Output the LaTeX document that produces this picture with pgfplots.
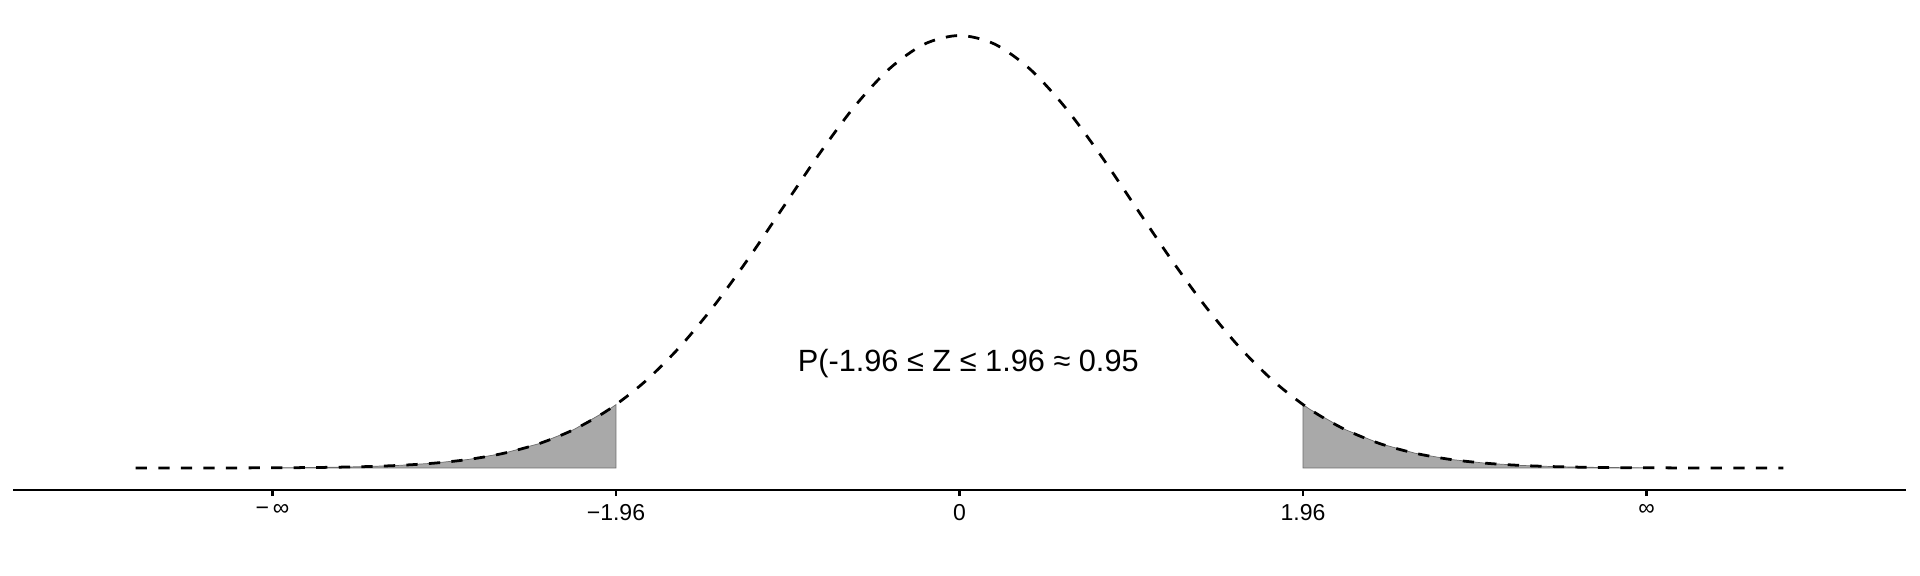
\documentclass[border=0pt]{standalone}
\usepackage{fontspec}
\setmainfont{Liberation Sans}
\usepackage{pgfplots}
\pgfplotsset{compat=1.18}
\definecolor{shade}{HTML}{A9A9A9}

\begin{document}
\begin{tikzpicture}
\useasboundingbox (-5.42pt,-35.83pt) rectangle (794.58pt,204.17pt);
\begin{axis}[
  scale only axis, width=788.75pt, height=204.17pt,
  xmin=-5.4, xmax=5.4, ymin=-0.0203, ymax=0.4317,
  axis x line=bottom, axis y line=none,
  axis line style={-, line width=1.1pt, black},
  xtick={-3.92,-1.96,0,1.96,3.92},
  xticklabels={{−\,∞},{−1.96},0,1.96,∞},
  tick align=outside, major tick length=2.6pt,
  tick style={line width=1.1pt, black},
  tick label style={font=\fontsize{9.6}{11}\selectfont},
  ytick=\empty,
  clip=false,
]
% shaded tails
\addplot[fill=shade, draw=gray!85!black, line width=0.3pt] coordinates {
  (-3.92,0) (-3.92,0.000184) (-3.8,0.000292) (-3.6,0.000612) (-3.4,0.001232)
  (-3.2,0.002384) (-3.0,0.004432) (-2.8,0.007915) (-2.6,0.013583)
  (-2.4,0.022395) (-2.2,0.035475) (-2.0,0.053991) (-1.96,0.058441) (-1.96,0)
} -- cycle;
\addplot[fill=shade, draw=gray!85!black, line width=0.3pt] coordinates {
  (1.96,0) (1.96,0.058441) (2.0,0.053991) (2.2,0.035475) (2.4,0.022395)
  (2.6,0.013583) (2.8,0.007915) (3.0,0.004432) (3.2,0.002384)
  (3.4,0.001232) (3.6,0.000612) (3.8,0.000292) (3.92,0.000184) (3.92,0)
} -- cycle;
% density curve
\addplot[black, line width=1.15pt, dash pattern=on 4.7pt off 4.7pt, smooth] coordinates {
  (-4.7,0.0000066) (-4.6,0.0000101) (-4.4,0.000025) (-4.2,0.0000589)
  (-4.0,0.000134) (-3.8,0.000292) (-3.6,0.000612) (-3.4,0.001232)
  (-3.2,0.002384) (-3.0,0.004432) (-2.8,0.007915) (-2.6,0.013583)
  (-2.4,0.022395) (-2.2,0.035475) (-2.0,0.053991) (-1.8,0.078950)
  (-1.6,0.110921) (-1.4,0.149727) (-1.2,0.194186) (-1.0,0.241971)
  (-0.8,0.289692) (-0.6,0.333225) (-0.4,0.368270) (-0.2,0.391043)
  (0,0.398942)
  (0.2,0.391043) (0.4,0.368270) (0.6,0.333225) (0.8,0.289692)
  (1.0,0.241971) (1.2,0.194186) (1.4,0.149727) (1.6,0.110921)
  (1.8,0.078950) (2.0,0.053991) (2.2,0.035475) (2.4,0.022395)
  (2.6,0.013583) (2.8,0.007915) (3.0,0.004432) (3.2,0.002384)
  (3.4,0.001232) (3.6,0.000612) (3.8,0.000292) (4.0,0.000134)
  (4.2,0.0000589) (4.4,0.000025) (4.6,0.0000101) (4.7,0.0000066)
};
\node[font=\fontsize{12.8}{15}\selectfont] at (axis cs:0.05,0.096) {P(-1.96 ≤ Z ≤ 1.96 ≈ 0.95};
\end{axis}
\end{tikzpicture}
\end{document}
